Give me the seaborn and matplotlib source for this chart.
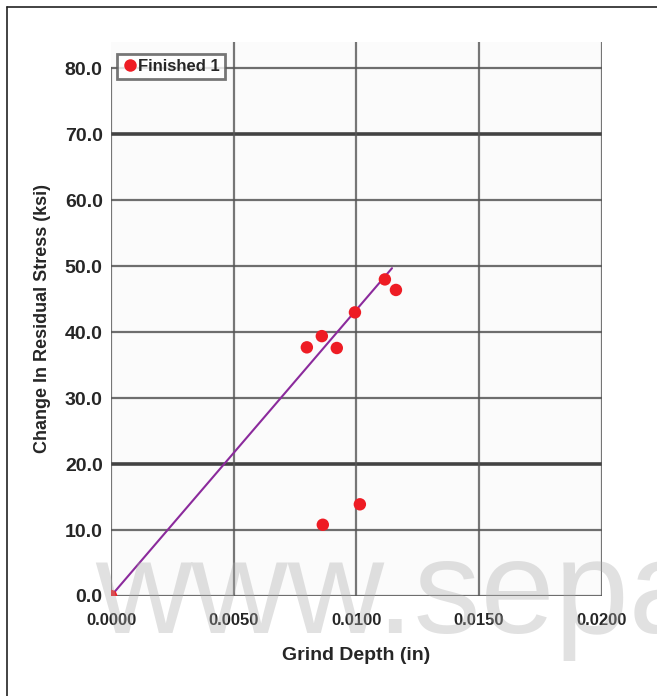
import matplotlib
matplotlib.use("Agg")
import matplotlib.pyplot as plt
import seaborn as sns
import pandas as pd
from matplotlib.lines import Line2D

# Data
grind_depth = [0.0, 0.00798, 0.00859, 0.00920, 0.00994, 0.01116, 0.01161, 0.00863, 0.01014]
stress_change = [0.0, 37.7, 39.4, 37.6, 43.0, 48.0, 46.4, 10.8, 13.9]
fit_x = [0.0, 0.01145]
fit_y = [0.0, 49.7]
x_ticks = [0.0, 0.005, 0.010, 0.015, 0.020]
x_tick_labels = ["0.0000", "0.0050", "0.0100", "0.0150", "0.0200"]
y_ticks = [0, 10, 20, 30, 40, 50, 60, 70, 80]
y_tick_labels = ["0.0", "10.0", "20.0", "30.0", "40.0", "50.0", "60.0", "70.0", "80.0"]

sns.set_style("white")
plt.rcParams['font.family'] = ['Liberation Sans', 'DejaVu Sans']

df = pd.DataFrame({"x": grind_depth, "y": stress_change})
fit = pd.DataFrame({"x": fit_x, "y": fit_y})

fig = plt.figure(figsize=(6.57, 6.96), dpi=100)
ax = fig.add_axes([0.169, 0.1437, 0.747, 0.796])
ax.set_facecolor("#fbfbfb")

# gridlines
for yv in y_ticks:
    thick = yv in (20, 70)
    ax.axhline(yv, color="#222222" if thick else "#555555", lw=2.6 if thick else 1.6, alpha=0.85, zorder=1)
for xv in x_ticks[1:]:
    ax.axvline(xv, color="#555555", lw=1.6, alpha=0.8, zorder=1)
ax.plot([0, 0], [0, 80], color="#555555", lw=1.6, alpha=0.8, zorder=1)

sns.lineplot(data=fit, x="x", y="y", ax=ax, color="#8b2a9c", lw=1.5, zorder=3)
sns.scatterplot(data=df, x="x", y="y", ax=ax, color="#ee1c24", s=80, edgecolor="none", zorder=4)

ax.set_xlim(0, 0.02)
ax.set_ylim(0, 84)
for s in ax.spines.values():
    s.set_visible(False)
ax.set_xticks(x_ticks)
ax.set_xticklabels(x_tick_labels, fontsize=12, fontweight="bold")
ax.set_yticks(y_ticks)
ax.set_yticklabels(y_tick_labels, fontsize=14, fontweight="bold")
ax.tick_params(axis="x", length=0, pad=12)
ax.tick_params(axis="y", length=0, pad=6)
ax.set_xlabel("Grind Depth (in)", fontsize=14, fontweight="bold", labelpad=14)
ax.set_ylabel("Change In Residual Stress (ksi)", fontsize=13, fontweight="bold", labelpad=10)

handle = Line2D([], [], marker="o", color="none", markerfacecolor="#ee1c24",
                markeredgecolor="none", markersize=9)
leg = ax.legend([handle], ["Finished 1"], loc="upper left", bbox_to_anchor=(0.005, 0.985),
                prop={"weight": "bold", "size": 12}, frameon=True, fancybox=False,
                handletextpad=0.0, borderpad=0.3, handlelength=1.0, borderaxespad=0.2)
leg.get_frame().set_edgecolor("#555555")
leg.get_frame().set_linewidth(2)

# border lines of the figure frame
fig.add_artist(Line2D([7/657, 7/657], [0, 1 - 7/696], color="#222222", lw=1.2))
fig.add_artist(Line2D([7/657, 1], [1 - 7/696, 1 - 7/696], color="#222222", lw=1.2))

# watermark
fig.text(95/657, 1 - 633/696, "www.sepa", fontsize=96, color="#aaaaaa", alpha=0.35,
         ha="left", va="baseline", zorder=10)

fig.savefig("out.png", dpi=100)
